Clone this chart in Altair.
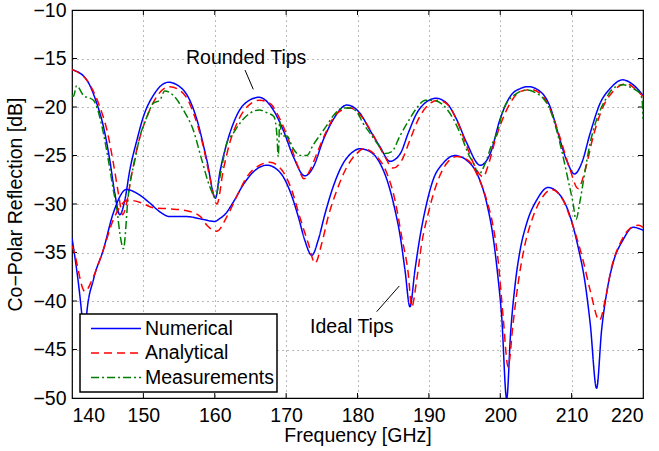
import altair as alt
import pandas as pd

FONT = "Liberation Sans"
FS = 19.5
methods = ["Numerical", "Analytical", "Measurements"]
colors = ["#0000ff", "#ff0000", "#008000"]
dashes = [[1, 0], [8, 5], [8, 3, 2, 3]]

x_ticks = [140, 150, 160, 170, 180, 190, 200, 210, 220]
y_ticks = [-50, -45, -40, -35, -30, -25, -20, -15, -10]

# ---- Rounded tips ----
num_r_f = [140, 140.2, 142.06, 143.46, 144.4, 145.3, 146.0, 146.7, 147.4, 148.1, 149.1, 150, 151.4,
           153.5, 155.6, 157.5, 158.9, 160.1, 160.7, 161.7, 162.6, 164, 166.2, 168.2, 169.6, 171,
           172.6, 173.8, 175.2, 176.6, 178.5, 180.35, 181.75, 183.15, 184.55, 186, 187.1, 188.3,
           189.7, 191.0, 192.5, 193.9, 195.3, 197.2, 198.6, 200, 201.4, 202.8, 203.9, 205.6, 207,
           208.1, 209.3, 210.4, 211.4, 212.6, 214, 215.4, 217.15, 218.6, 220]
num_r_db = [-16.15, -16.2, -17.2, -19.6, -22.0, -25.5, -28.9, -31.1, -29.6, -26.5, -23.4, -21.0, -18.8,
            -17.45, -18.25, -21.3, -25.5, -29.4, -26.8, -23.7, -21.7, -19.8, -19.0, -20.3, -22.4, -25.1,
            -27.1, -26.2, -23.4, -21.3, -19.8, -20.65, -22.4, -24.1, -25.6, -24.8, -22.7, -20.65,
            -19.45, -19.1, -19.6, -21.3, -23.7, -26.0, -24.8, -21.2, -18.9, -18.1, -17.9, -18.4, -20.0,
            -22.7, -25.5, -26.9, -25.8, -22.7, -19.6, -18.1, -17.2, -17.7, -18.8]

ana_r_f = [140, 140.2, 142.5, 143.9, 144.9, 145.8, 146.5, 147.1, 147.65, 148.4, 149.3, 150.5, 151.9,
           153.7, 155.6, 157.2, 158.4, 159.3, 160.3, 161.2, 162.1, 163.1, 164.5, 166.3, 167.7, 169.1,
           170.5, 171.7, 172.5, 173.35, 174.3, 175.7, 177.1, 178.95, 180.8, 182.2, 183.6, 185, 186.2,
           187.35, 188.5, 189.9, 191.3, 192.7, 194.1, 195.5, 196.5, 197.6, 198.4, 199.3, 200.2, 201.4,
           202.8, 204.4, 206, 207.4, 208.6, 209.8, 210.9, 211.9, 213, 214.4, 215.8, 217.7, 219.1, 220]
ana_r_db = [-16.15, -16.2, -17.7, -20.0, -22.4, -25.8, -28.9, -31.1, -29.9, -26.8, -23.7, -21.0, -18.9,
            -17.9, -18.6, -21.0, -24.1, -27.2, -30.0, -26.5, -23.7, -21.7, -20.0, -19.3, -19.6, -21.2,
            -23.7, -26.2, -27.4, -26.5, -24.8, -22.4, -20.65, -20.1, -21.2, -22.9, -24.8, -26.3, -25.5,
            -23.4, -21.3, -19.8, -19.3, -19.8, -21.7, -24.4, -26.2, -27.2, -25.8, -23.4, -21.5, -19.6,
            -18.4, -18.2, -18.9, -21.0, -23.7, -26.5, -28.4, -26.5, -23.1, -20.0, -18.4, -17.6, -18.25, -18.9]

meas_r_f = [140, 140.2, 140.65, 141.6, 143, 144.2, 145.1, 145.8, 146.3, 146.7, 147.2, 147.9, 148.8,
            149.5, 150.5, 151.4, 152.3, 153.0, 154.2, 155.6, 157.0, 158.2, 159.3, 160.1, 160.7, 161.7,
            162.6, 163.5, 164.9, 166.3, 167.0, 167.7, 168.3, 168.7, 168.9, 169.1, 169.4, 170.1, 171,
            172, 172.9, 173.8, 174.75, 175.7, 176.6, 178.0, 178.95, 179.9, 180.8, 181.75, 182.9,
            183.85, 184.8, 186, 187.1, 188.3, 189.5, 190.6, 192.0, 193.4, 194.6, 195.5, 196.5, 196.9,
            197.9, 198.8, 199.7, 200.4, 202.3, 203.7, 205.1, 206, 207, 207.9, 208.8, 209.5, 210.2,
            210.6, 211.2, 211.9, 212.6, 213.5, 214.7, 215.8, 217.2, 218.6, 219.6, 219.9, 220]
meas_r_db = [-18.8, -18.9, -17.8, -18.8, -19.3, -22.0, -25.5, -28.6, -30.6, -33.0, -34.6, -29.0, -25.5,
             -23.1, -21.0, -19.6, -19.3, -18.35, -18.8, -20.3, -22.4, -25.5, -28.2, -29.3, -27.3, -23.7,
             -22.7, -21.7, -20.65, -20.3, -20.5, -20.7, -21.0, -22.8, -25.1, -21.5, -23.0, -23.0, -24.3,
             -25.0, -25.0, -23.9, -22.9, -21.9, -20.9, -20.1, -20.1, -20.5, -21.7, -22.7, -23.9,
             -24.8, -24.6, -22.9, -21.5, -20.1, -19.3, -19.3, -19.8, -21.2, -23.1, -24.8, -26.2, -27.0,
             -25.8, -23.9, -22.4, -20.3, -18.6, -18.25, -18.6, -19.1, -20.3, -22.4, -25.1, -27.5, -29.9,
             -31.6, -29.6, -26.5, -23.7, -21.3, -19.3, -18.1, -17.7, -18.1, -18.6, -19.5, -21.2]

# ---- Ideal tips ----
num_i_f = [140, 141.36, 141.75, 142.06, 143, 144.4, 145.8, 147.65, 149.1, 150.9, 152.3, 153.7, 156.1,
           158.4, 160.0, 160.7, 161.4, 162.6, 164, 165.4, 167.3, 169.1, 170.5, 171.7, 172.6, 173.6,
           174.5, 175.45, 176.6, 178, 179.4, 180.35, 181.75, 183.15, 184.3, 185.25, 186, 186.65,
           187.35, 188.05, 188.75, 189.7, 190.6, 192, 193.65, 195.3, 196.7, 198.1, 199.0, 199.6,
           200.2, 200.9, 201.45, 202.1, 202.8, 203.7, 205.1, 206.7, 208.4, 209.8, 210.9, 211.9, 212.6,
           213.5, 214.2, 214.9, 215.8, 217.2, 218.6, 220]
num_i_db = [-33.5, -41.3, -44.5, -41.3, -37.8, -34.7, -30.9, -28.5, -28.9, -29.9, -30.8, -31.3, -31.3,
            -31.6, -31.8, -31.5, -31.1, -29.8, -28.0, -26.7, -26.0, -26.7, -28.6, -31.3, -33.7, -35.3,
            -33.7, -31.0, -28.2, -25.8, -24.6, -24.3, -24.6, -25.8, -27.9, -30.6, -33.4, -36.8,
            -40.6, -36.8, -33.4, -29.9, -27.5, -25.8, -25.0, -25.5, -26.8, -29.9, -33.4, -37.0,
            -41.6, -50.1, -43.3, -38.2, -34.7, -32.0, -29.6, -28.3, -29.1, -31.3, -34.4, -38.2, -42.3,
            -49.0, -43.0, -39.2, -36.1, -33.7, -32.4, -32.7]

ana_i_f = [140, 140.2, 141.8, 143, 144.4, 145.8, 147.9, 149.8, 151.4, 153.7, 156.1, 158, 158.9, 160.3,
           161.7, 163.1, 164.5, 166.3, 167.7, 169.4, 170.8, 171.9, 173.1, 174.05, 175, 175.9, 177.1,
           178.5, 179.9, 180.8, 182.7, 184.1, 185.25, 186.2, 187.1, 187.6, 188.3, 189, 189.9, 191.1,
           192.5, 193.9, 195.5, 196.9, 198.1, 199, 199.7, 200.4, 201.1, 201.8, 202.5, 203.4, 204.6,
           206, 207.2, 208.8, 210.2, 211.6, 212.6, 213.9, 214.7, 215.6, 216.8, 218.2, 219.4, 220]
ana_i_db = [-34.3, -34.7, -39.0, -37.5, -34.7, -31.6, -29.6, -29.9, -30.4, -30.5, -30.7, -31.3, -32.2,
            -32.8, -31.3, -29.2, -27.2, -26.0, -25.7, -26.5, -28.6, -31.3, -34.05, -36.1, -34.05, -31.3,
            -28.6, -26.2, -24.8, -24.3, -25.1, -26.8, -29.6, -33.4, -37.1, -40.6, -37.8, -34.05, -31.0,
            -27.9, -25.8, -25.1, -25.5, -27.2, -29.6, -32.3, -35.8, -41.6, -46.8, -42.3, -38.2, -34.4,
            -31.3, -29.2, -28.5, -29.6, -32.3, -35.8, -38.9, -42.0, -39.9, -36.5, -34.05, -32.5, -32.2, -32.4]

# ---- Annotations ----
ann_labels = ["Rounded Tips", "Ideal Tips"]
ann_text_f = [164.4, 179.2]
ann_text_db = [-14.95, -42.7]
ann_line_f = [[164.24, 165.4], [182.69, 185.86]]
ann_line_db = [[-16.19, -18.18], [-41.1, -38.45]]

series = [
    ("Numerical", "Rounded", num_r_f, num_r_db),
    ("Analytical", "Rounded", ana_r_f, ana_r_db),
    ("Measurements", "Rounded", meas_r_f, meas_r_db),
    ("Numerical", "Ideal", num_i_f, num_i_db),
    ("Analytical", "Ideal", ana_i_f, ana_i_db),
]
rows = []
for m, t, fs, ds in series:
    for i, (f, d) in enumerate(zip(fs, ds)):
        rows.append({"f": f, "dB": d, "method": m, "tips": t, "i": i})
df = pd.DataFrame(rows)

ann_rows = []
for lab, fs, ds in zip(ann_labels, ann_line_f, ann_line_db):
    for f, d in zip(fs, ds):
        ann_rows.append({"f": f, "dB": d, "label": lab})
df_ann_line = pd.DataFrame(ann_rows)
df_ann_text = pd.DataFrame({"f": ann_text_f, "dB": ann_text_db, "label": ann_labels})

W, H = 571, 388
x_scale = alt.Scale(domain=[140, 220], nice=False, zero=False)
y_scale = alt.Scale(domain=[-50, -10], nice=False, zero=False)

legend = alt.Legend(
    title=None, orient="none", legendX=8, legendY=304, direction="vertical",
    fillColor="white", strokeColor="black", padding=3, symbolOffset=7,
    symbolType="stroke", symbolSize=2500, symbolStrokeWidth=1.5,
    labelFontSize=FS, labelFont=FONT, labelColor="black", labelOffset=3,
    clipHeight=23, rowPadding=1.5,
)

lines = alt.Chart(df).mark_line(strokeWidth=1.5, interpolate="monotone", clip=True).encode(
    x=alt.X("f:Q", scale=x_scale,
            axis=alt.Axis(values=x_ticks, title="Frequency [GHz]", format="d")),
    y=alt.Y("dB:Q", scale=y_scale,
            axis=alt.Axis(values=y_ticks, title="Co−Polar Reflection [dB]", format="d")),
    color=alt.Color("method:N", scale=alt.Scale(domain=methods, range=colors), legend=legend),
    strokeDash=alt.StrokeDash("method:N", scale=alt.Scale(domain=methods, range=dashes), legend=legend),
    detail="tips:N",
    order="i:Q",
)

ann_l = alt.Chart(df_ann_line).mark_line(color="black", strokeWidth=1).encode(
    x=alt.X("f:Q", scale=x_scale), y=alt.Y("dB:Q", scale=y_scale), detail="label:N")
ann_t = alt.Chart(df_ann_text).mark_text(font=FONT, fontSize=FS, color="black").encode(
    x=alt.X("f:Q", scale=x_scale), y=alt.Y("dB:Q", scale=y_scale), text="label:N")

df_xt = pd.DataFrame({"v": x_ticks[1:-1]})
df_yt = pd.DataFrame({"v": y_ticks[1:-1]})
tick_top = alt.Chart(df_xt).mark_rule(color="black", strokeWidth=1).encode(
    x=alt.X("v:Q", scale=x_scale), y=alt.value(0), y2=alt.value(5))
tick_bot = alt.Chart(df_xt).mark_rule(color="black", strokeWidth=1).encode(
    x=alt.X("v:Q", scale=x_scale), y=alt.value(H), y2=alt.value(H - 5))
tick_left = alt.Chart(df_yt).mark_rule(color="black", strokeWidth=1).encode(
    y=alt.Y("v:Q", scale=y_scale), x=alt.value(0), x2=alt.value(5))
tick_right = alt.Chart(df_yt).mark_rule(color="black", strokeWidth=1).encode(
    y=alt.Y("v:Q", scale=y_scale), x=alt.value(W), x2=alt.value(W - 5))

chart = alt.layer(tick_top, tick_bot, tick_left, tick_right, lines, ann_l, ann_t).properties(
    width=W, height=H,
    autosize=alt.AutoSizeParams(type="none"),
    padding={"left": 72, "top": 10, "right": 16, "bottom": 53},
    background="white",
).configure_view(stroke="black", strokeWidth=1.2).configure_legend(
    strokeWidth=1.5,
).configure_axis(
    grid=True, gridColor="#000000", gridOpacity=0.55, gridDash=[1, 4], gridWidth=1,
    domain=False, ticks=False, tickSize=0,
    labelFont=FONT, labelFontSize=FS, labelColor="black",
    titleFont=FONT, titleFontSize=FS, titleFontWeight="normal", titleColor="black",
).configure_axisX(labelPadding=8, titlePadding=2).configure_axisY(labelPadding=6, titlePadding=7)

chart.save("out.html", embed_options={"renderer": "svg", "actions": False})
